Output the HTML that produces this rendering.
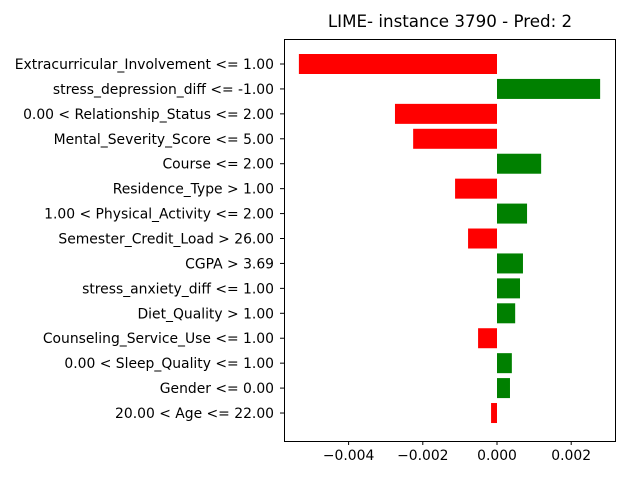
<!DOCTYPE html>
<html><head><meta charset="utf-8"><style>
body{margin:0;background:#fff;}
svg text{font-family:"DejaVu Sans","Liberation Sans",sans-serif;}
</style></head><body>
<svg id="chart" width="640" height="480" xmlns="http://www.w3.org/2000/svg">
<rect width="640" height="480" fill="#fff"/>
<text x="450" y="27" font-size="16.7" text-anchor="middle">LIME- instance 3790 - Pred: 2</text>
<g id="marks"></g>
<rect x="284.5" y="39.5" width="331" height="402" fill="none" stroke="#000" stroke-width="1"/>
</svg>
<script>
const categories = ["Extracurricular_Involvement <= 1.00","stress_depression_diff <= -1.00","0.00 < Relationship_Status <= 2.00","Mental_Severity_Score <= 5.00","Course <= 2.00","Residence_Type > 1.00","1.00 < Physical_Activity <= 2.00","Semester_Credit_Load > 26.00","CGPA > 3.69","stress_anxiety_diff <= 1.00","Diet_Quality > 1.00","Counseling_Service_Use <= 1.00","0.00 < Sleep_Quality <= 1.00","Gender <= 0.00","20.00 < Age <= 22.00"];
const values = [-0.00534,0.00278,-0.00275,-0.00226,0.00119,-0.00113,0.00081,-0.00078,0.0007,0.00062,0.00049,-0.00051,0.0004,0.00035,-0.00016];
const xTicks = [-0.004,-0.002,0.000,0.002];
const xTickLabels = ["−0.004","−0.002","0.000","0.002"];
const NS="http://www.w3.org/2000/svg";
const g=document.getElementById('marks');
const x0=497, pxPerUnit=37100;
function xs(v){return x0+v*pxPerUnit;}
function ys(i){return 64+i*24.93;}
function mk(t,a){const e=document.createElementNS(NS,t);for(const k in a)e.setAttribute(k,a[k]);g.appendChild(e);return e;}
values.forEach((v,i)=>{
  const r=mk('rect',{x:Math.min(xs(0),xs(v)),y:ys(i)-10,width:Math.abs(xs(v)-xs(0)),height:20,fill:v<0?'#ff0000':'#008000'});
  
  
});
categories.forEach((c,i)=>{
  mk('line',{x1:280,x2:284,y1:ys(i),y2:ys(i),stroke:'#000'});
  const t=mk('text',{x:274,y:ys(i)+5,'font-size':13.9,'text-anchor':'end'});
  t.textContent=c;
  
  
});
xTicks.forEach((v,i)=>{
  mk('line',{x1:xs(v),x2:xs(v),y1:441,y2:445,stroke:'#000'});
  const t=mk('text',{x:xs(v),y:460,'font-size':13.9,'text-anchor':'middle'});
  t.textContent=xTickLabels[i];
  
  
});
</script>
</body></html>
